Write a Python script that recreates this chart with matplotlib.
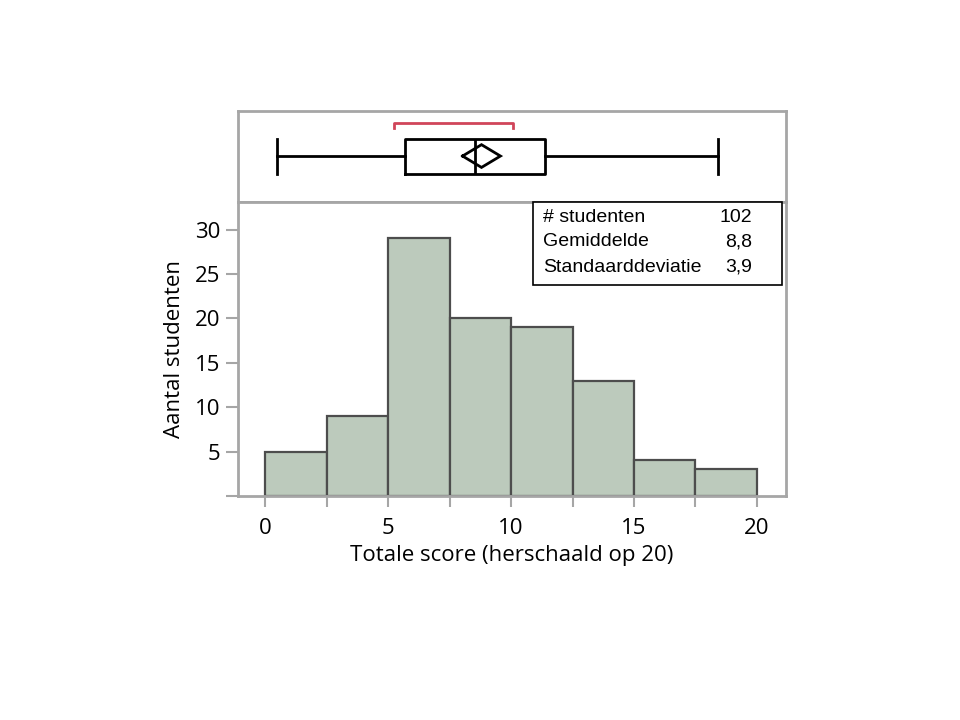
import matplotlib
matplotlib.use("Agg")
import matplotlib.pyplot as plt
import numpy as np

# ---- data ----
bin_edges = [0, 2.5, 5, 7.5, 10, 12.5, 15, 17.5, 20]
counts = [5, 9, 29, 20, 19, 13, 4, 3]

whisker_low = 0.5
q1 = 5.7
median = 8.55
q3 = 11.4
whisker_high = 18.4
mean = 8.8
ci_low = 8.03
ci_high = 9.57
shortest_half = [5.25, 10.1]

stat_labels = ["# studenten", "Gemiddelde", "Standaarddeviatie"]
stat_values = ["102", "8,8", "3,9"]

x_ticks = [0, 5, 10, 15, 20]
x_minor = [2.5, 7.5, 12.5, 17.5]
y_ticks = [0, 5, 10, 15, 20, 25, 30]
y_ticklabels = ["", "5", "10", "15", "20", "25", "30"]

xlabel = "Totale score (herschaald op 20)"
ylabel = "Aantal studenten"

# ---- style ----
font = "Open Sans"
spine_c = "#a6a6a6"
bar_fc = "#bccabc"
bar_ec = "#4d4d4d"

fig = plt.figure(figsize=(9.6, 7.2), dpi=100)
xlim = (-1.1, 21.18)

# box plot panel
axb = fig.add_axes([238/960, 1-202/720, 548/960, 91/720])
axb.set_xlim(*xlim)
axb.set_ylim(0, 1)
stats = [dict(whislo=whisker_low, q1=q1, med=median, q3=q3, whishi=whisker_high, fliers=[])]
axb.bxp(stats, positions=[0.505], widths=[0.384], capwidths=[0.384], orientation="horizontal",
        showfliers=False, manage_ticks=False,
        boxprops=dict(color="black", linewidth=2),
        whiskerprops=dict(color="black", linewidth=2),
        capprops=dict(color="black", linewidth=2),
        medianprops=dict(color="black", linewidth=2))
# mean diamond
dy = 0.125
axb.plot([ci_low, mean, ci_high, mean, ci_low], [0.505, 0.505+dy, 0.505, 0.505-dy, 0.505],
         color="black", lw=2, solid_joinstyle="miter")
# shortest half bracket
axb.plot([shortest_half[0], shortest_half[0], shortest_half[1], shortest_half[1]],
         [0.81, 0.868, 0.868, 0.81], color="#d0455a", lw=2)
axb.set_xticks([])
axb.set_yticks([])
for s in axb.spines.values():
    s.set_color(spine_c)
    s.set_linewidth(2)

# histogram panel
ax = fig.add_axes([238/960, 1-496/720, 548/960, 294/720])
ax.set_xlim(*xlim)
ax.set_ylim(0, 33.1)
widths = np.diff(bin_edges)
ax.bar(bin_edges[:-1], counts, width=widths, align="edge", color=bar_fc,
       edgecolor=bar_ec, linewidth=1.6, zorder=2)
ax.set_xticks(x_ticks)
ax.set_xticks(x_minor, minor=True)
ax.set_yticks(y_ticks)
ax.set_yticklabels(y_ticklabels)
ax.tick_params(axis="both", which="both", color=spine_c, width=1.5, length=9,
               labelsize=16, pad=4)
ax.tick_params(axis="x", which="both", length=8, pad=8)
for lab in ax.get_xticklabels() + ax.get_yticklabels():
    lab.set_fontfamily(font)
for s in ax.spines.values():
    s.set_color(spine_c)
    s.set_linewidth(2)
ax.set_xlabel(xlabel, fontsize=16, fontfamily=font, labelpad=4)
ax.set_ylabel(ylabel, fontsize=16, fontfamily=font, labelpad=7)

# stats box
bx0, bx1 = 533/960, 782/960
by0, by1 = 1-285/720, 1-202/720
fig.patches.append(plt.Rectangle((bx0, by0), bx1-bx0, by1-by0, transform=fig.transFigure,
                                 facecolor="white", edgecolor="black", linewidth=1.2, zorder=5))
ys = [218, 242, 267]
for lab, val, y in zip(stat_labels, stat_values, ys):
    fig.text(543/960, 1-y/720, lab, fontsize=14, fontfamily="Liberation Sans",
             va="center", ha="left", zorder=6)
    fig.text(752/960, 1-y/720, val, fontsize=14, fontfamily="Liberation Sans",
             va="center", ha="right", zorder=6)

fig.savefig("out.png", dpi=100)
